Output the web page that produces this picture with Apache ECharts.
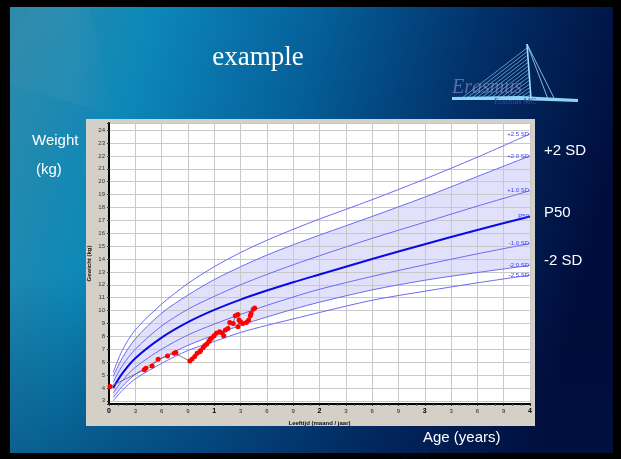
<!DOCTYPE html>
<html><head><meta charset="utf-8">
<script src="https://cdn.jsdelivr.net/npm/echarts@6/dist/echarts.min.js"></script>
<style>html,body{margin:0;padding:0;background:#000;}#c{width:621px;height:459px;}</style>
</head><body><div id="c"></div>
<script>
// ---- data (age in years, weight in kg) ----
const ages   = [0.04, 0.125, 0.25, 0.5, 0.75, 1, 1.25, 1.5, 1.75, 2, 2.5, 3, 3.5, 4];
const plus25 = [5.2, 6.9, 8.5, 10.5, 12.1, 13.4, 14.5, 15.45, 16.3, 17.1, 18.6, 20.2, 21.9, 23.7];
const plus20 = [4.9, 6.3, 7.8, 9.8, 11.2, 12.4, 13.4, 14.3, 15.1, 15.85, 17.3, 18.8, 20.4, 22.0];
const plus10 = [4.45, 5.7, 7.0, 8.8, 10.1, 11.1, 12.0, 12.8, 13.55, 14.25, 15.6, 16.85, 18.1, 19.3];
const p50    = [4.0, 5.1, 6.3, 7.9, 9.1, 10.05, 10.85, 11.55, 12.2, 12.8, 14.0, 15.15, 16.25, 17.3];
const min10  = [3.6, 4.55, 5.6, 7.0, 8.1, 8.95, 9.7, 10.4, 11.05, 11.65, 12.65, 13.55, 14.4, 15.2];
const min20  = [3.25, 4.1, 5.05, 6.3, 7.3, 8.1, 8.85, 9.5, 10.1, 10.65, 11.6, 12.35, 12.95, 13.5];
const min25  = [3.0, 3.8, 4.7, 5.9, 6.9, 7.6, 8.3, 8.85, 9.35, 9.85, 10.8, 11.5, 12.15, 12.75];
const sdNames = ['+2.5 SD', '+2.0 SD', '+1.0 SD', 'P50', '-1.0 SD', '-2.0 SD', '-2.5 SD'];
const childAge    = [0.01, 0.335, 0.35, 0.41, 0.467, 0.556, 0.62, 0.635, 0.768, 0.79, 0.815, 0.837, 0.863, 0.87, 0.894, 0.91, 0.93, 0.948, 0.96, 0.973, 0.998, 1.02, 1.05, 1.07, 1.09, 1.106, 1.13, 1.147, 1.18, 1.20, 1.225, 1.235, 1.225, 1.25, 1.27, 1.305, 1.327, 1.343, 1.35, 1.37, 1.384];
const childWeight = [4.1, 5.4, 5.53, 5.7, 6.22, 6.48, 6.69, 6.74, 6.09, 6.25, 6.43, 6.69, 6.81, 6.9, 7.12, 7.28, 7.4, 7.59, 7.75, 7.85, 8.05, 8.24, 8.36, 8.28, 8.05, 8.49, 8.6, 9.08, 9.0, 9.6, 9.7, 9.27, 8.75, 9.13, 9.0, 9.08, 9.27, 9.6, 9.78, 10.1, 10.2];
const slideTitle = 'example';
const sideLabels = ['+2 SD', 'P50', '-2 SD'];

const chart = echarts.init(document.getElementById('c'));
const SMOOTH = 0.3;

function sdSeries(name, vals, width, color) {
  const data = ages.map((a, i) => i === ages.length - 1
    ? { value: [a, vals[i]], label: { show: true } }
    : [a, vals[i]]);
  return {
    type: 'line', name, data, smooth: SMOOTH,
    symbol: 'circle', symbolSize: 0, showSymbol: true, silent: true, z: 3,
    lineStyle: { color, width }, itemStyle: { color },
    label: { show: false, position: 'left', distance: 1, formatter: name,
      fontSize: 6, color: '#3a3aff', fontFamily: 'Arial' }
  };
}

const thin = '#6b6bf5';
const series = [
  // band between +2 SD and -2 SD: lavender fill down from +2 SD, white fill down from -2 SD
  { type: 'line', data: ages.map((a, i) => [a, plus20[i]]), smooth: SMOOTH, symbol: 'none',
    lineStyle: { width: 0, opacity: 0 }, areaStyle: { color: '#e1e1fb', opacity: 1, origin: 'start' }, silent: true, z: 1 },
  { type: 'line', data: ages.map((a, i) => [a, min20[i]]), smooth: SMOOTH, symbol: 'none',
    lineStyle: { width: 0, opacity: 0 }, areaStyle: { color: '#ffffff', opacity: 1, origin: 'start' }, silent: true, z: 1 },
  sdSeries(sdNames[0], plus25, 1, thin),
  sdSeries(sdNames[1], plus20, 1, thin),
  sdSeries(sdNames[2], plus10, 1, thin),
  sdSeries(sdNames[3], p50, 2, '#0a0ae6'),
  sdSeries(sdNames[4], min10, 1, thin),
  sdSeries(sdNames[5], min20, 1, thin),
  sdSeries(sdNames[6], min25, 1, thin),
  { type: 'line', data: childAge.map((a, i) => [a, childWeight[i]]), symbol: 'circle', symbolSize: 5,
    showSymbol: true, itemStyle: { color: '#ff0000' }, lineStyle: { color: '#606060', width: 0.8 }, z: 5, silent: true }
];

// decorative logo cables
const cables = [];
for (let i = 0; i < 14; i++) {
  cables.push({ type: 'line', z: 50, silent: true, shape: { x1: 527 + i * 0.25, y1: 48 + i * 3.6, x2: 462 + i * 4.8, y2: 98 },
    style: { stroke: 'rgba(140,215,250,0.8)', lineWidth: 0.8 } });
}

chart.setOption({
  animation: false,
  backgroundColor: '#000',
  grid: { left: 109, top: 123, width: 421, height: 281, show: true, backgroundColor: '#ffffff', borderWidth: 0, z: 0 },
  xAxis: {
    type: 'value', min: 0, max: 4, interval: 0.25, z: 2,
    name: 'Leeftijd (maand / jaar)', nameLocation: 'middle', nameGap: 11,
    nameTextStyle: { fontSize: 6, fontWeight: 'bold', color: '#111', fontFamily: 'Arial' },
    axisLine: { show: true, lineStyle: { color: '#000', width: 2 } },
    axisTick: { show: true, length: 2, lineStyle: { color: '#333' } },
    minorTick: { show: true, splitNumber: 3, length: 2, lineStyle: { color: '#555' } },
    splitLine: { show: true, lineStyle: { color: '#c9c9c9', width: 1 } },
    axisLabel: { margin: 4, fontSize: 6, color: '#222', fontFamily: 'Arial',
      formatter: v => Math.abs(v - Math.round(v)) < 1e-6 ? '{b|' + Math.round(v) + '}' : String(Math.round((v % 1) * 12)),
      rich: { b: { fontSize: 7, fontWeight: 'bold', color: '#000' } } }
  },
  yAxis: {
    type: 'value', min: 2.75, max: 24.55, splitNumber: 22, minInterval: 1, maxInterval: 1, z: 2,
    name: 'Gewicht (kg)', nameLocation: 'middle', nameGap: 17, nameRotate: 90, nameMoveOverlap: false,
    nameTextStyle: { fontSize: 6, fontWeight: 'bold', color: '#111', fontFamily: 'Arial' },
    axisLine: { show: true, lineStyle: { color: '#000', width: 2 } },
    axisTick: { show: true, length: 2, lineStyle: { color: '#333' } },
    splitLine: { show: true, lineStyle: { color: '#c9c9c9', width: 1 } },
    axisLabel: { margin: 4, fontSize: 6, color: '#333', fontFamily: 'Arial',
      formatter: v => Math.abs(v - Math.round(v)) < 1e-6 ? String(Math.round(v)) : '' }
  },
  series,
  graphic: [
    { type: 'rect', z: -10, silent: true, shape: { x: 10, y: 7, width: 603, height: 446 },
      style: { fill: { type: 'linear', x: 0, y: 0, x2: 1, y2: 0.35, colorStops: [
        { offset: 0, color: '#2f8aaa' }, { offset: 0.22, color: '#0c88b8' }, { offset: 0.48, color: '#05609a' },
        { offset: 0.75, color: '#022f68' }, { offset: 1, color: '#000d3c' } ] } } },
    { type: 'rect', z: -9, silent: true, shape: { x: 10, y: 7, width: 603, height: 446 },
      style: { fill: { type: 'linear', x: 0, y: 0, x2: 0, y2: 1, colorStops: [
        { offset: 0, color: 'rgba(0,10,50,0)' }, { offset: 0.6, color: 'rgba(0,10,50,0)' }, { offset: 1, color: 'rgba(0,20,70,0.35)' } ] } } },
    { type: 'polygon', z: -8, silent: true, shape: { points: [[10, 40], [30, 7], [90, 7], [115, 115], [10, 85]] },
      style: { fill: { type: 'linear', x: 0, y: 0, x2: 1, y2: 0, colorStops: [
        { offset: 0, color: 'rgba(200,205,205,0.02)' }, { offset: 0.6, color: 'rgba(200,205,205,0.06)' }, { offset: 1, color: 'rgba(200,205,205,0)' } ] } } },
    { type: 'text', z: -7, silent: true, style: { x: 395, y: 478, text: 'Erasmus', font: '64px "Liberation Serif"', fill: 'rgba(0,10,60,0.25)', textVerticalAlign: 'middle' } },
    { type: 'rect', z: -5, silent: true, shape: { x: 86, y: 119, width: 449, height: 307 }, style: { fill: '#d4d0c8' } },
    { type: 'text', z: 50, silent: true, style: { x: 258, y: 58, text: slideTitle, font: '27px "Liberation Serif"', fill: '#ffffff', textAlign: 'center', textVerticalAlign: 'middle' } },
    { type: 'text', z: 50, silent: true, style: { x: 32, y: 141, text: 'Weight', font: '15px "Liberation Sans"', fill: '#ffffff', textVerticalAlign: 'middle' } },
    { type: 'text', z: 50, silent: true, style: { x: 36, y: 170, text: '(kg)', font: '15px "Liberation Sans"', fill: '#ffffff', textVerticalAlign: 'middle' } },
    { type: 'text', z: 50, silent: true, style: { x: 544, y: 151, text: sideLabels[0], font: '15px "Liberation Sans"', fill: '#ffffff', textVerticalAlign: 'middle' } },
    { type: 'text', z: 50, silent: true, style: { x: 544, y: 213, text: sideLabels[1], font: '15px "Liberation Sans"', fill: '#ffffff', textVerticalAlign: 'middle' } },
    { type: 'text', z: 50, silent: true, style: { x: 544, y: 261, text: sideLabels[2], font: '15px "Liberation Sans"', fill: '#ffffff', textVerticalAlign: 'middle' } },
    { type: 'text', z: 50, silent: true, style: { x: 423, y: 438, text: 'Age (years)', font: '15px "Liberation Sans"', fill: '#ffffff', textVerticalAlign: 'middle' } },
    // logo
    ...cables,
    { type: 'line', z: 51, silent: true, shape: { x1: 527, y1: 44, x2: 531, y2: 99 }, style: { stroke: '#9fe0ff', lineWidth: 1.6 } },
    { type: 'line', z: 51, silent: true, shape: { x1: 527, y1: 44, x2: 548, y2: 99 }, style: { stroke: '#9fe0ff', lineWidth: 0.8 } },
    { type: 'line', z: 51, silent: true, shape: { x1: 527, y1: 44, x2: 555, y2: 100 }, style: { stroke: '#9fe0ff', lineWidth: 0.8 } },
    { type: 'polygon', z: 51, silent: true, shape: { points: [[452, 97], [520, 96], [578, 99], [578, 102], [520, 100], [452, 100]] }, style: { fill: '#8fd6f6' } },
    { type: 'text', z: 52, silent: true, style: { x: 452, y: 88, text: 'Erasmus', font: 'italic 20px "Liberation Serif"', fill: 'rgba(160,145,200,0.6)', textVerticalAlign: 'middle' } },
    { type: 'text', z: 52, silent: true, style: { x: 494, y: 102, text: 'Erasmus MC', font: '8px "Liberation Serif"', fill: '#3a4aa0', textVerticalAlign: 'middle' } }
  ]
});
</script></body></html>
